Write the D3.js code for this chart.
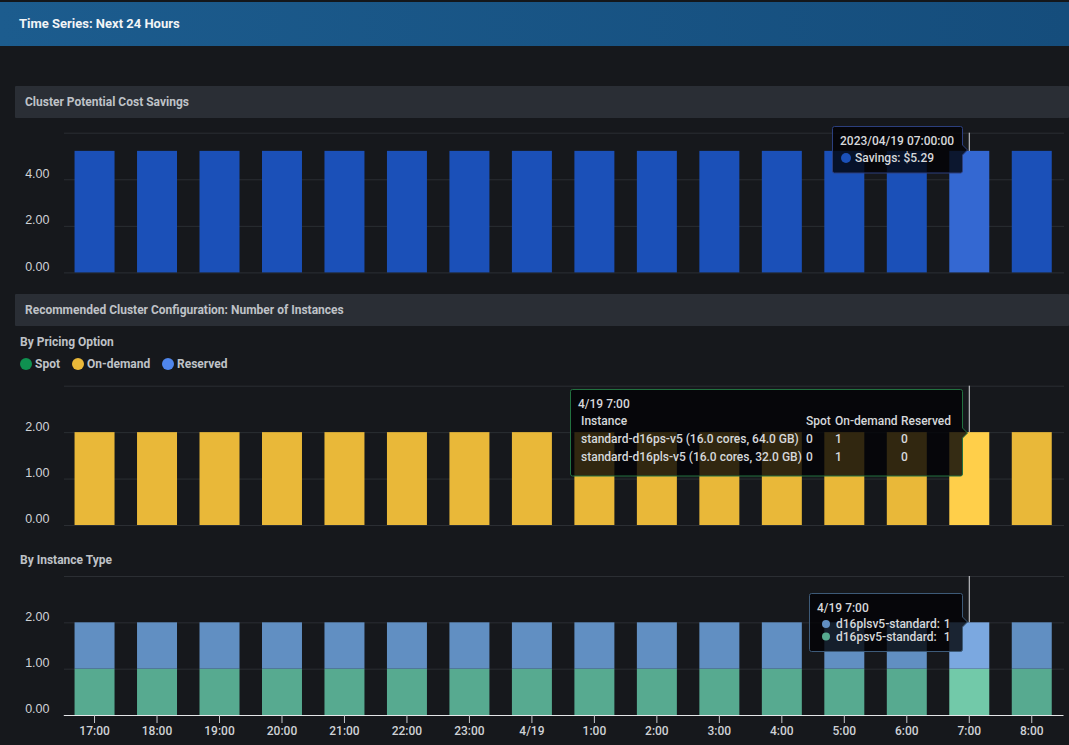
<!DOCTYPE html>
<html>
<head>
<meta charset="utf-8">
<title>Time Series: Next 24 Hours</title>
<script src="https://cdnjs.cloudflare.com/ajax/libs/d3/7.8.5/d3.min.js"></script>
<style>
  html, body { margin: 0; padding: 0; background: #16181c; overflow: hidden; }
  svg { display: block; font-family: Roboto, sans-serif; }
  text { fill: #cfd2d6; font-size: 12px; }
  .bold { font-weight: 500; }
  .grid line { stroke: #2b2e33; }
  .grid path, .ylab path { display: none; }
  .ylab text { fill: #cfd2d6; font-size: 12.5px; font-weight: 500; }
</style>
</head>
<body>
<svg id="chart" width="1069" height="745"></svg>
<script>
const hours = ["17:00", "18:00", "19:00", "20:00", "21:00", "22:00", "23:00", "4/19", "1:00", "2:00", "3:00", "4:00", "5:00", "6:00", "7:00", "8:00"];
// bars top out a little under the tooltip's 5.29 in the picture
const savings = [5.22, 5.22, 5.22, 5.22, 5.22, 5.22, 5.22, 5.22, 5.22, 5.22, 5.22, 5.22, 5.22, 5.22, 5.22, 5.22];
const spot = [0, 0, 0, 0, 0, 0, 0, 0, 0, 0, 0, 0, 0, 0, 0, 0];
const onDemand = [2, 2, 2, 2, 2, 2, 2, 2, 2, 2, 2, 2, 2, 2, 2, 2];
const reserved = [0, 0, 0, 0, 0, 0, 0, 0, 0, 0, 0, 0, 0, 0, 0, 0];
const d16psv5 = [1, 1, 1, 1, 1, 1, 1, 1, 1, 1, 1, 1, 1, 1, 1, 1];
const d16plsv5 = [1, 1, 1, 1, 1, 1, 1, 1, 1, 1, 1, 1, 1, 1, 1, 1];
const pricingNames = ["Spot", "On-demand", "Reserved"];
const instanceRows = [
    ["standard-d16ps-v5 (16.0 cores, 64.0 GB)", 0, 1, 0],
    ["standard-d16pls-v5 (16.0 cores, 32.0 GB)", 0, 1, 0]
];
const hoverHour = "7:00";

const svg = d3.select("#chart");
const defs = svg.append("defs");
const grad = defs.append("linearGradient").attr("id", "headerFill");
grad.append("stop").attr("offset", "0").attr("stop-color", "#1c5c8e");
grad.append("stop").attr("offset", "1").attr("stop-color", "#154d7c");

const x = d3.scaleBand().domain(hours).range([63.3, 1063]).paddingInner(0.36).paddingOuter(0.18);

// header + section bars
svg.append("rect").attr("x", 0).attr("y", 0).attr("width", 1069).attr("height", 46).attr("fill", "url(#headerFill)");
svg.append("rect").attr("x", 0).attr("y", 0).attr("width", 1069).attr("height", 2).attr("fill", "#14171b");
svg.append("text").attr("x", 19).attr("y", 28).style("font-weight", 700).style("fill", "#f2f4f6").style("font-size", "13px").text("Time Series: Next 24 Hours");

function sectionBar(y, label) {
    svg.append("rect").attr("x", 15).attr("y", y).attr("width", 1054).attr("height", 32).attr("rx", 1).attr("fill", "#2a2e35");
    svg.append("text").attr("x", 25).attr("y", y + 20).style("font-weight", 700).style("fill", "#bfc2c7").text(label);
}
sectionBar(86, "Cluster Potential Cost Savings");
sectionBar(294, "Recommended Cluster Configuration: Number of Instances");

// one panel: gridlines, y labels sitting above the lines, stacked bars, hover line
function panel(yMin, yMax, domainMax, labelTicks, gridTicks, layers) {
    const y = d3.scaleLinear().domain([0, domainMax]).range([yMin, yMax]);
    svg.append("g").attr("class", "grid").attr("transform", "translate(64,0)")
        .call(d3.axisRight(y).tickValues(gridTicks).tickSize(1000).tickFormat(""));
    const labs = svg.append("g").attr("class", "ylab").attr("transform", "translate(49.5,0)")
        .call(d3.axisLeft(y).tickValues(labelTicks).tickSize(0).tickPadding(0).tickFormat(d3.format(".2f")));
    labs.selectAll("text").attr("dy", "-0.17em");

    svg.append("line").attr("x1", x(hoverHour) + x.bandwidth() / 2).attr("x2", x(hoverHour) + x.bandwidth() / 2)
        .attr("y1", yMax).attr("y2", y(2)).attr("stroke", "#d8dade").attr("stroke-width", 1);

    const rows = hours.map((h, i) => {
        const r = { hour: h };
        layers.forEach(l => { r[l.name] = l.values[i]; });
        return r;
    });
    const stack = d3.stack().keys(layers.map(l => l.name))(rows);
    stack.forEach((s, k) => {
        svg.append("g").selectAll("rect").data(s).join("rect")
            .attr("x", d => x(d.data.hour))
            .attr("width", x.bandwidth())
            .attr("y", d => y(d[1]))
            .attr("height", d => y(d[0]) - y(d[1]))
            .attr("fill", d => d.data.hour === hoverHour ? layers[k].hover : layers[k].color);
    });
    return y;
}

panel(272.4, 132.7, 6, [0, 2, 4], [0, 2, 4, 6], [
    { name: "Savings", values: savings, color: "#1b50b8", hover: "#3468d2" }
]);
panel(525, 385.7, 3, [0, 1, 2], [0, 1, 2, 3], [
    { name: "Spot", values: spot, color: "#0f9150", hover: "#0f9150" },
    { name: "On-demand", values: onDemand, color: "#e9b839", hover: "#ffcf4a" },
    { name: "Reserved", values: reserved, color: "#4f86ec", hover: "#4f86ec" }
]);
const yLast = panel(715, 576, 3, [0, 1, 2], [1, 2, 3], [
    { name: "d16psv5-standard", values: d16psv5, color: "#57aa90", hover: "#72c9a9" },
    { name: "d16plsv5-standard", values: d16plsv5, color: "#618fc2", hover: "#7ba8e0" }
]);

// bottom time axis
const xAxis = svg.append("g").attr("transform", `translate(0,${yLast(0)})`)
    .call(d3.axisBottom(x).tickSizeInner(8).tickSizeOuter(0).tickPadding(3));
xAxis.select("path").attr("stroke", "#e4e6e8").attr("stroke-width", 1.2);
xAxis.selectAll("line").attr("stroke", "#c8cacd");
xAxis.selectAll("text").style("fill", "#cfd2d6").style("font-size", "12px").style("font-weight", 500).style("font-family", "Roboto, sans-serif");

// sub headings + legend
svg.append("text").attr("x", 20).attr("y", 346).style("font-weight", 700).style("fill", "#bfc2c7").text("By Pricing Option");
svg.append("text").attr("x", 20).attr("y", 564).style("font-weight", 700).style("fill", "#bfc2c7").text("By Instance Type");

const legendX = d3.scaleOrdinal().domain(pricingNames).range([26, 78, 168]);
const legendColor = d3.scaleOrdinal().domain(pricingNames).range(["#0f9150", "#e9b839", "#4f86ec"]);
pricingNames.forEach(n => {
    svg.append("circle").attr("cx", legendX(n)).attr("cy", 364).attr("r", 6).attr("fill", legendColor(n));
    svg.append("text").attr("x", legendX(n) + 9).attr("y", 368).style("font-weight", 700).style("fill", "#bfc2c7").text(n);
});

// tooltip box with a small arrow on the right side
function tooltipBox(left, top, right, bottom, stroke, arrowY) {
    const p = d3.path();
    p.moveTo(left + 2, top);
    p.lineTo(right - 2, top);
    p.quadraticCurveTo(right, top, right, top + 2);
    p.lineTo(right, arrowY - 5);
    p.lineTo(right + 5, arrowY);
    p.lineTo(right, arrowY + 5);
    p.lineTo(right, bottom - 2);
    p.quadraticCurveTo(right, bottom, right - 2, bottom);
    p.lineTo(left + 2, bottom);
    p.quadraticCurveTo(left, bottom, left, bottom - 2);
    p.lineTo(left, top + 2);
    p.quadraticCurveTo(left, top, left + 2, top);
    p.closePath();
    svg.append("path").attr("d", p.toString())
        .attr("fill", "rgba(3,3,6,0.8)").attr("stroke", stroke).attr("stroke-width", 1);
}
function tipText(tx, ty, s, anchor) {
    svg.append("text").attr("x", tx).attr("y", ty).attr("text-anchor", anchor || "start").style("fill", "#d6d8db").style("font-weight", 500).text(s);
}

tooltipBox(832.5, 126.5, 962.5, 173, "#2c3f7e", 150);
tipText(840, 145, "2023/04/19 07:00:00");
svg.append("circle").attr("cx", 846).attr("cy", 158).attr("r", 5).attr("fill", "#1b50b8");
tipText(855, 162, "Savings: $5.29");

tooltipBox(570.5, 389.5, 962.5, 476, "#22703f", 433);
tipText(578, 408, "4/19 7:00");
tipText(581, 425, "Instance");
const columnX = [806, 835, 901];
pricingNames.forEach((n, i) => tipText(columnX[i], 425, n));
instanceRows.forEach((row, r) => {
    tipText(581, 443 + r * 18, row[0]);
    columnX.forEach((cx, i) => tipText(cx, 443 + r * 18, row[i + 1]));
});

tooltipBox(809.5, 593.5, 962.5, 651.5, "#3d5a78", 622);
tipText(817, 612, "4/19 7:00");
[["d16plsv5-standard", d16plsv5, "#618fc2"], ["d16psv5-standard", d16psv5, "#57aa90"]].forEach((s, i) => {
    svg.append("circle").attr("cx", 826).attr("cy", 624 + i * 12.5).attr("r", 4).attr("fill", s[2]);
    tipText(836, 628 + i * 12.5, s[0] + ":");
    tipText(950.5, 628 + i * 12.5, s[1][hours.indexOf(hoverHour)], "end");
});
</script>
</body>
</html>
